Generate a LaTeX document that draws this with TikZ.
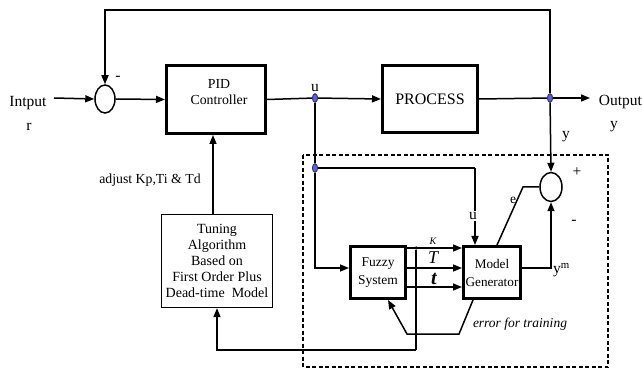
\documentclass[tikz,border=0pt]{standalone}
\usepackage{fontspec}
\setmainfont{Liberation Serif}
\usetikzlibrary{arrows.meta,shapes.geometric}
\tikzset{
  ln/.style={line width=1.5pt},
  arr/.style={line width=1.5pt,-{Triangle[length=9pt,width=7pt]}},
  thickbox/.style={draw,line width=3pt,inner sep=0pt,align=center},
  thinbox/.style={draw,line width=1.3pt,inner sep=0pt,align=center},
  sumnode/.style={ellipse,draw,line width=1.5pt,inner sep=0pt,minimum width=20pt,minimum height=28pt},
  bdot/.style={ellipse,draw=black!80,fill=blue!65,line width=0.7pt,inner sep=0pt,minimum width=5pt,minimum height=8.5pt},
  kdot/.style={circle,fill=black,inner sep=0pt,minimum size=3.5pt},
  txt/.style={font=\fontsize{15.5}{17}\selectfont,inner sep=0pt},
  btxt/.style={font=\fontsize{13.8}{16}\selectfont,inner sep=0pt,align=center},
  dbox/.style={line width=1.3pt,dash pattern=on 4pt off 2.5pt}
}
\begin{document}
\begin{tikzpicture}[x=1pt,y=-1pt]
\useasboundingbox (0,0) rectangle (642,371);
% dashed region
\draw[dbox] (303,155) rectangle (608,367);
% nodes
\node[sumnode] (s1) at (105,99) {};
\node[thickbox,minimum width=99pt,minimum height=68pt] (pid) at (216,99.5) {};
\node[btxt] (pidt) at (219,92) {PID\\Controller};
\node[thickbox,minimum width=95pt,minimum height=67pt,font=\fontsize{16}{18}\selectfont] (proc) at (430,99) {PROCESS};
\node[bdot] (u1) at (315,98) {};
\node[bdot] (o1) at (550,98) {};
\node[bdot] (u2) at (315,168) {};
\node[sumnode,minimum width=22pt,minimum height=29pt] (s2) at (551,187) {};
\node[thickbox,minimum width=55pt,minimum height=52pt,font=\fontsize{13.5}{18}\selectfont] (fz) at (378,272.5) {Fuzzy\\System};
\node[thickbox,minimum width=57pt,minimum height=52pt,font=\fontsize{13.2}{18}\selectfont] (mg) at (492,272.5) {Model\\Generator};
\node[thinbox,minimum width=111pt,minimum height=93pt,font=\fontsize{14}{15.8}\selectfont] (tu) at (217,261)
  {Tuning\\Algorithm\\Based on\\First Order Plus\\Dead-time\ \ Model};
\node[kdot] (k1) at (416,248) {};
\node[kdot] (k2) at (416,268) {};
\node[kdot] (k3) at (416,287) {};
\coordinate (in) at (54,98);
\coordinate (outend) at (590,98);
\coordinate (top) at (550,10);
\coordinate (uc) at (475,168);
\coordinate (eb) at (523,187);
\coordinate (fb) at (416,350);
\coordinate (t1) at (459,334);
\coordinate (t2) at (407,334);
% texts
\node[txt] (lin) at (28,103) {Intput};
\node[txt] (lr) at (29,127) {r};
\node[txt] (lout) at (620.5,102) {Output};
\node[txt] (ly) at (614,127) {y};
\node[txt] (lu) at (315,88) {u};
\node[txt] (ly2) at (566,137) {y};
\node[txt] (lm1) at (118,78) {-};
\node[txt] (lp2) at (577,172) {+};
\node[txt] (lm2) at (574,222) {-};
\node[btxt] (ladj) at (150,180) {adjust Kp,Ti \& Td};
\node[txt,font=\fontsize{13.5}{15}\selectfont] (le) at (513,200) {e};
\node[txt,anchor=west] (lym) at (553,270) {y\textsuperscript{m}};
\node[btxt,font=\fontsize{13.5}{15}\selectfont\itshape] (ltr) at (520,324) {error for training};
\node[txt,font=\fontsize{10}{12}\selectfont\itshape] (lk) at (433,241) {K};
\node[txt,font=\fontsize{18}{20}\selectfont\itshape] (lt1) at (433,258) {T};
\node[txt,font=\fontsize{20}{22}\selectfont\bfseries\itshape] (lt2) at (434,279) {t};
% connectors
\draw[arr] (in) -- (s1.west);
\draw[arr] (s1.east) -- (pid.west);
\draw[ln] (pid.east) -- (u1);
\draw[arr] (u1) -- (proc.west);
\draw[ln] (proc.east) -- (o1);
\draw[arr] (o1) -- (outend);
\draw[arr] (o1) -- (top) -| (s1.north);
\draw[arr] (o1) -- (s2.north);
\draw[ln] (u1) -- (u2);
\draw[arr] (u2) -- (u2 |- k2) -- (k2 -| fz.west);
\draw[ln] (u2) -- (uc);
\draw[arr] (uc) -- (uc |- mg.north);
\node[txt,fill=white,inner sep=1pt] (lu2) at (473,216) {u};
\draw[arr] (k1 -| fz.east) -- (k1 -| mg.west);
\draw[arr] (k2 -| fz.east) -- (k2 -| mg.west);
\draw[arr] (k3 -| fz.east) -- (k3 -| mg.west);
\draw[ln] (k1) -- (fb);
\draw[arr] (fb) -| (tu.south);
\draw[arr] ([xshift=-4pt]tu.north) -- ([xshift=-4pt]tu.north |- pid.south);
\draw[ln] ([xshift=5pt]mg.north) -- (eb) -- (s2.west);
\draw[arr] (k2 -| mg.east) -| (s2.south);
\draw[arr] ([xshift=-19pt]mg.south) -- (t1) -- (t2) -- ([xshift=10pt]fz.south);
% redraw dots on top
\node[bdot] at (u1) {};
\node[bdot] at (o1) {};
\node[bdot] at (u2) {};
\end{tikzpicture}
\end{document}
